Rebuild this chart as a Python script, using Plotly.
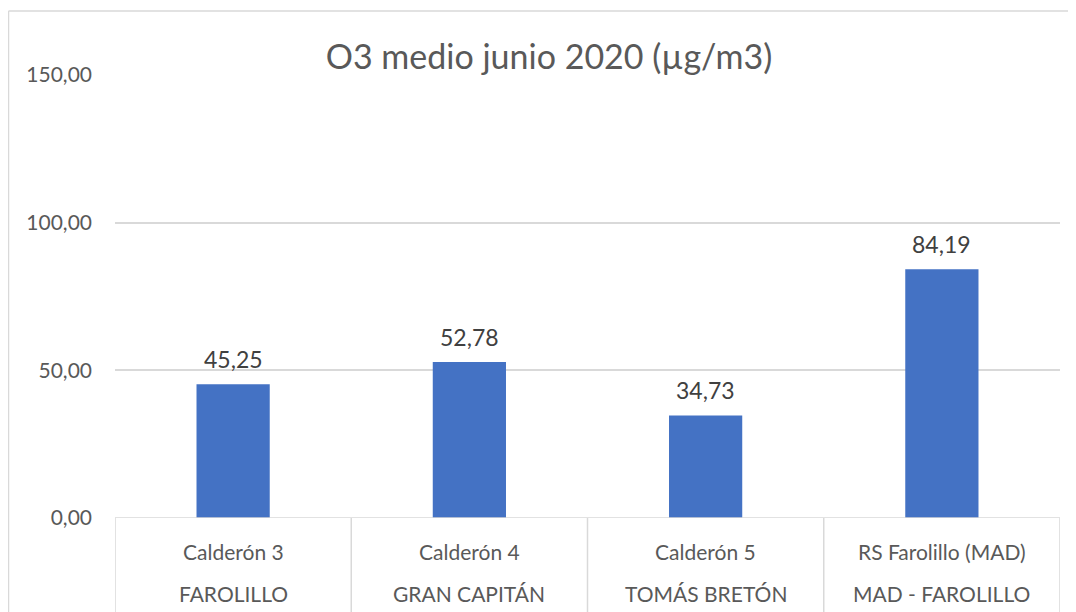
import plotly.graph_objects as go

estaciones = ["Calderón 3", "Calderón 4", "Calderón 5", "RS Farolillo (MAD)"]
zonas = ["FAROLILLO", "GRAN CAPITÁN", "TOMÁS BRETÓN", "MAD - FAROLILLO"]
valores = [45.25, 52.78, 34.73, 84.19]
y_ticks = [0, 50, 100, 150]

# page body has an 8px margin: figure origin sits at (8, 8) of the window
OFF = 8
W, H = 1076 - OFF, 612 - OFF
L, R, T, B = 115 - OFF, W - (1060 - OFF), 75 - OFF, H - (518 - OFF)
pw, ph = W - L - R, H - T - B

def px_x(p):  # p in window pixels
    return (p - OFF - L) / pw

def px_y(p):
    return (H - B - (p - OFF)) / ph

TXT = "#595959"
GRID = "#D9D9D9"
FONT = "Lato"

xs = list(range(len(estaciones)))

fig = go.Figure()
fig.add_trace(go.Bar(
    x=xs, y=valores, marker=dict(color="#4472C4", line=dict(width=0)),
    width=0.31, hoverinfo="skip",
))

annotations = []
for i, v in enumerate(valores):
    annotations.append(dict(
        x=i, y=v, xref="x", yref="y", text=f"{v:.2f}".replace(".", ","),
        showarrow=False, yanchor="middle", yshift=25,
        font=dict(family=FONT, size=23, color="#404040"),
    ))
for i, (e, z) in enumerate(zip(estaciones, zonas)):
    annotations.append(dict(
        x=i, y=px_y(551), xref="x", yref="paper", text=e, showarrow=False,
        yanchor="middle", font=dict(family=FONT, size=21, color=TXT),
    ))
    annotations.append(dict(
        x=i, y=px_y(593), xref="x", yref="paper", text=z, showarrow=False,
        yanchor="middle", font=dict(family=FONT, size=21, color=TXT),
    ))

shapes = []
shapes.append(dict(type="line", xref="paper", yref="y", x0=0, x1=1, y0=0, y1=0,
                   line=dict(color=GRID, width=1.5)))
for k in range(len(estaciones) + 1):
    shapes.append(dict(type="line", xref="x", yref="paper", x0=k - 0.5, x1=k - 0.5,
                       y0=0, y1=px_y(620), line=dict(color=GRID, width=1.5)))
shapes.append(dict(type="line", xref="paper", yref="paper", x0=px_x(8.5), x1=px_x(8.5),
                   y0=px_y(11), y1=px_y(620), line=dict(color=GRID, width=1.5)))
shapes.append(dict(type="line", xref="paper", yref="paper", x0=px_x(8.5), x1=px_x(1090),
                   y0=px_y(11), y1=px_y(11), line=dict(color=GRID, width=1.5)))

fig.update_layout(
    width=W, height=H,
    margin=dict(l=L, r=R, t=T, b=B, pad=0),
    paper_bgcolor="white", plot_bgcolor="white",
    showlegend=False,
    separators=",.",
    title=dict(text="O3 medio junio 2020 (µg/m3)", x=px_x(549), xref="paper",
               xanchor="center", y=1 - (57 - OFF) / H, yanchor="middle",
               font=dict(family=FONT, size=34, color=TXT)),
    xaxis=dict(range=[-0.5, len(estaciones) - 0.5], showticklabels=False,
               showgrid=False, zeroline=False, showline=False, ticks=""),
    yaxis=dict(range=[0, 150], tickvals=y_ticks, tickformat=".2f",
               showgrid=True, gridcolor=GRID, gridwidth=1.5, zeroline=False,
               showline=False, ticks="", ticklabelstandoff=22,
               tickfont=dict(family=FONT, size=21, color=TXT)),
    annotations=annotations,
    shapes=shapes,
)

fig.write_html("out.html")
